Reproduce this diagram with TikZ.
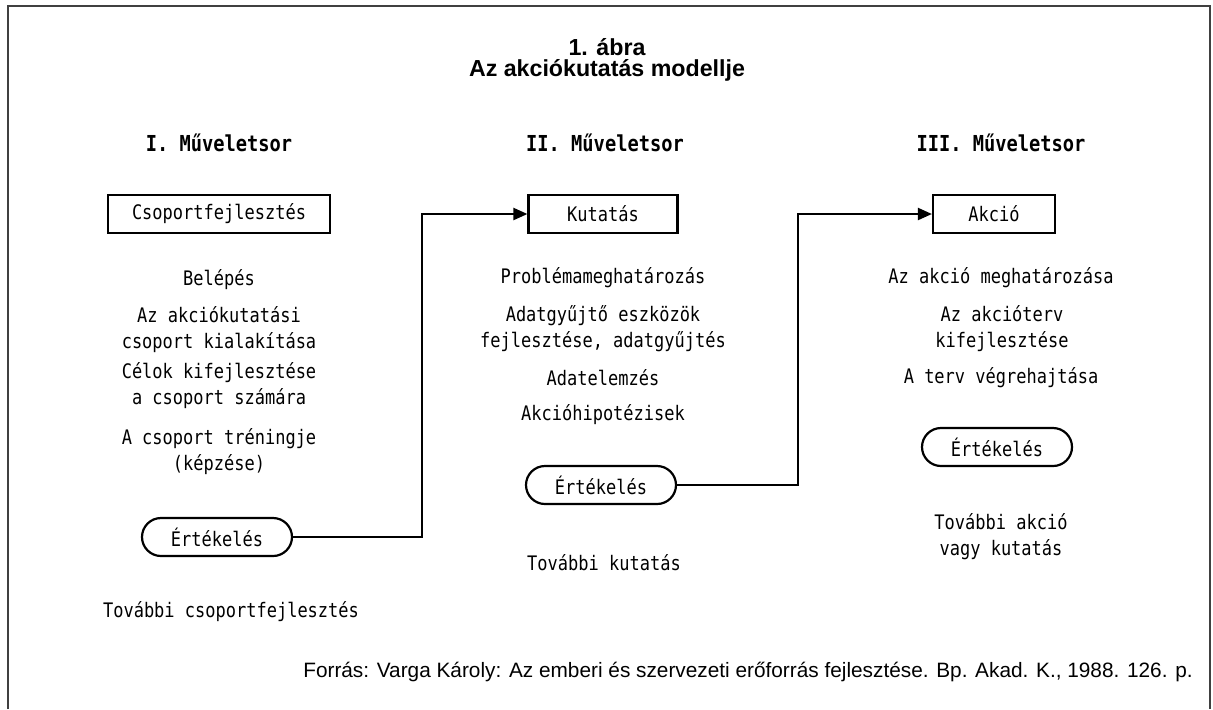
\documentclass[tikz,border=0pt]{standalone}
\usepackage{fontspec}
\setmainfont{Liberation Sans}
\newfontfamily\typefont[FakeStretch=0.85]{DejaVu Sans Mono}
\usetikzlibrary{arrows.meta, positioning, calc}

\tikzset{
  steptext/.style={font=\typefont\fontsize{10}{13}\selectfont, align=center, inner sep=0pt},
  colhead/.style={font=\typefont\bfseries\fontsize{11}{13}\selectfont, inner sep=0pt},
  stagebox/.style={draw, line width=1.1pt, minimum height=19pt, inner sep=0pt,
    font=\typefont\fontsize{10}{13}\selectfont},
  evalbox/.style={draw, line width=1.1pt, rounded corners=9.5pt, minimum width=75pt,
    minimum height=19pt, inner sep=0pt, font=\typefont\fontsize{10}{13}\selectfont},
  flow/.style={line width=1.1pt, -{Triangle[length=7pt,width=6pt]}},
}

\begin{document}
\begin{tikzpicture}[x=0.5pt, y=-0.5pt]
    \useasboundingbox (0,0) rectangle (1213,709);
    % page frame, open at the bottom
    \draw[line width=1pt, black!75] (8,709) -- (8,6) -- (1210,6) -- (1210,709);

    % title
    \node[font=\bfseries\fontsize{11.6}{10.5}\selectfont, align=center, inner sep=0pt]
        (title) at (607,60) {1. ábra\\Az akciókutatás modellje};

    % column heads
    \node[colhead] (headI)   at (219,143)  {I. Műveletsor};
    \node[colhead] (headII)  at (605,143)  {II. Műveletsor};
    \node[colhead] (headIII) at (1001,143) {III. Műveletsor};

    % I. column
    \node[stagebox, minimum width=111pt] (csoport) at (219,214) {Csoportfejlesztés};
    \node[steptext] (belepes) at (219,280) {Belépés};
    \node[steptext] (kialak)  at (219,330) {Az akciókutatási\\csoport kialakítása};
    \node[steptext] (celok)   at (219,386) {Célok kifejlesztése\\a csoport számára};
    \node[steptext] (trening) at (219,452) {A csoport tréningje\\(képzése)};
    \node[evalbox] (eval1) at (217,537) {Értékelés};
    \node[steptext] (tovabb1) at (231,612) {További csoportfejlesztés};

    % II. column
    \node[stagebox, minimum width=74.5pt] (kutatas) at (603,214) {Kutatás};
    \node[steptext] (problema) at (603,278) {Problémameghatározás};
    \node[steptext] (adatgy)   at (603,329) {Adatgyűjtő eszközök\\fejlesztése, adatgyűjtés};
    \node[steptext] (elemzes)  at (603,378) {Adatelemzés};
    \node[steptext] (hipot)    at (603,415) {Akcióhipotézisek};
    \node[evalbox] (eval2) at (601,485) {Értékelés};
    \node[steptext] (tovabb2) at (604,563) {További kutatás};

    % III. column
    \node[stagebox, minimum width=61pt] (akcio) at (994,214) {Akció};
    \node[steptext] (meghat)  at (1001,278) {Az akció meghatározása};
    \node[steptext] (akcterv) at (1002,329) {Az akcióterv\\kifejlesztése};
    \node[steptext] (vegreh)  at (1001,378) {A terv végrehajtása};
    \node[evalbox] (eval3) at (997,447) {Értékelés};
    \node[steptext] (tovabb3) at (1001,537) {További akció\\vagy kutatás};

    % connectors
    \coordinate (bend1) at (422,375);
    \coordinate (bend2) at (798,350);
    \draw[flow] (eval1.east) -| (bend1) |- (kutatas.west);
    \draw[flow] (eval2.east) -| (bend2) |- (akcio.west);

    % source
    \node[font=\fontsize{10.4}{12}\selectfont] (forras) at (748,672)
        {Forrás: Varga Károly: Az emberi és szervezeti erőforrás fejlesztése. Bp. Akad. K., 1988. 126. p.};
\end{tikzpicture}
\end{document}
